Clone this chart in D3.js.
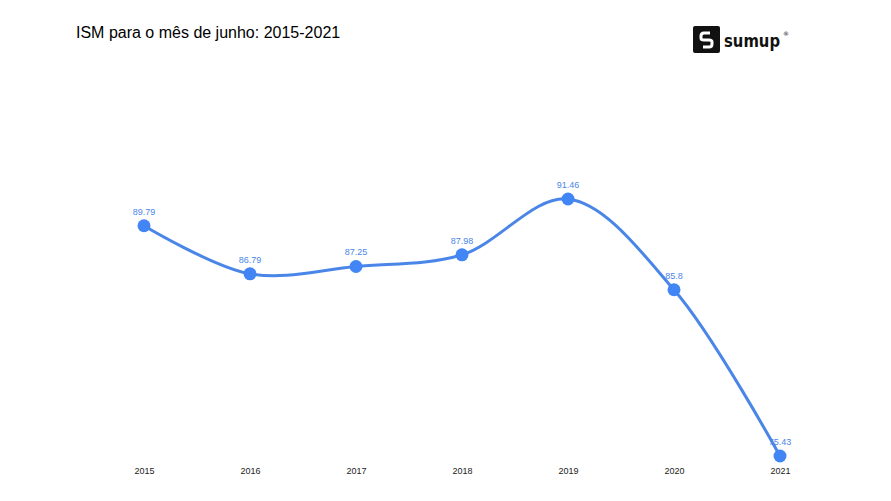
<!DOCTYPE html><html><head><meta charset="utf-8"><script src="https://cdn.jsdelivr.net/npm/d3@7"></script>
<style>body{margin:0;background:#fff}</style></head><body><svg id="c" width="891" height="501"></svg>
<script>
const years=["2015","2016","2017","2018","2019","2020","2021"];
const values=[89.79,86.79,87.25,87.98,91.46,85.8,75.43];
const svg=d3.select("#c");
const x=d3.scalePoint().domain(years).range([144,780]);
const y=d3.scaleLinear().domain([75.43,91.46]).range([456,199]);
svg.append("text").attr("x",76).attr("y",38).attr("font-family","Liberation Sans, Arial").attr("font-size",16).attr("fill","#000").text("ISM para o mês de junho: 2015-2021");
const g=svg.append("g").attr("transform","translate(693,26)");
g.append("rect").attr("width",27).attr("height",27).attr("rx",2).attr("fill","#111");
g.append("path").attr("d","M17 7 L11 7 Q8 7 8 10 L8 12 Q8 14 11 14 L16 14 Q19 14 19 16 L19 18 Q19 21 16 21 L10 21").attr("fill","none").attr("stroke","#fff").attr("stroke-width",3);
g.append("text").attr("x",31).attr("y",21).attr("font-family","DejaVu Sans").attr("font-weight","bold").attr("font-size",18).attr("textLength",56).attr("lengthAdjust","spacingAndGlyphs").attr("fill","#111").text("sumup");
g.append("text").attr("x",90).attr("y",10).attr("font-family","DejaVu Sans").attr("font-size",6).attr("fill","#111").text("®");
const ax=d3.axisBottom(x).tickSize(0).tickPadding(0);
const a=svg.append("g").attr("transform","translate(0,468)").call(ax);
a.select(".domain").remove();
a.selectAll("text").attr("font-family","Liberation Sans, Arial").attr("font-size",9).attr("fill","#222");
const line=d3.line().x((d,i)=>x(years[i])).y(d=>y(d)).curve(d3.curveCatmullRom.alpha(0.5));
svg.append("path").datum(values).attr("d",line).attr("fill","none").attr("stroke","#4a86e8").attr("stroke-width",3);
svg.selectAll("circle").data(values).join("circle").attr("cx",(d,i)=>x(years[i])).attr("cy",d=>y(d)).attr("r",6.5).attr("fill","#4285f4");
svg.selectAll(".lbl").data(values).join("text").attr("x",(d,i)=>x(years[i])).attr("y",d=>y(d)-11).attr("text-anchor","middle").attr("font-family","Liberation Sans, Arial").attr("font-size",9).attr("fill","#4a86e8").text(d=>d);
</script></body></html>
